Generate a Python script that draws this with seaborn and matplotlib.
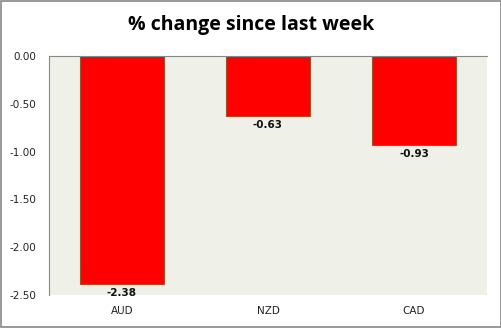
import matplotlib
matplotlib.use("Agg")
import matplotlib.pyplot as plt
import seaborn as sns
import pandas as pd

categories = ["AUD", "NZD", "CAD"]
values = [-2.38, -0.63, -0.93]
yticks = [0.0, -0.5, -1.0, -1.5, -2.0, -2.5]
title = "% change since last week"

sns.set_style("white")
plt.rcParams['font.family'] = ['DejaVu Sans']

df = pd.DataFrame({"cat": categories, "val": values})

fig = plt.figure(figsize=(5.02, 3.28), dpi=100)
ax = fig.add_axes([49/502, 1-295/328, (487-49)/502, (295-56)/328])
sns.barplot(data=df, x="cat", y="val", ax=ax, color="#FF0000", width=0.57,
            edgecolor="#A0522D", linewidth=0.8, saturation=1)
ax.set_facecolor("#EFF0E8")
ax.set_ylim(-2.5, 0)
ax.set_xlim(-0.5, 2.5)
ax.set_yticks(yticks)
ax.set_yticklabels([f"{t:.2f}" for t in yticks], fontsize=7.5, color="#222222")
ax.tick_params(axis='y', length=0, pad=9)
ax.tick_params(axis='x', length=0, pad=8, labelsize=7.5, labelcolor="#222222")
ax.set_xlabel("")
ax.set_ylabel("")
for s in ["right", "bottom"]:
    ax.spines[s].set_visible(False)
ax.spines["left"].set_color("#888888")
ax.spines["left"].set_linewidth(0.8)
ax.spines["top"].set_color("#888888")
ax.spines["top"].set_linewidth(0.8)

for i, v in enumerate(values):
    ax.annotate(f"{v:.2f}", (i, v), xytext=(0, -3), textcoords="offset points",
                ha="center", va="top", fontsize=7.5, fontweight="bold", color="#111111")

fig.text(0.5, 1-25/328, title, ha="center", va="center", fontsize=14,
         fontweight="bold", color="black", family=["Open Sans", "DejaVu Sans"])

border = plt.Rectangle((0.001, 0.002), 0.997, 0.995, transform=fig.transFigure,
                       fill=False, edgecolor="#888888", linewidth=1.2)
fig.patches.append(border)

fig.savefig("out.png", dpi=100)
